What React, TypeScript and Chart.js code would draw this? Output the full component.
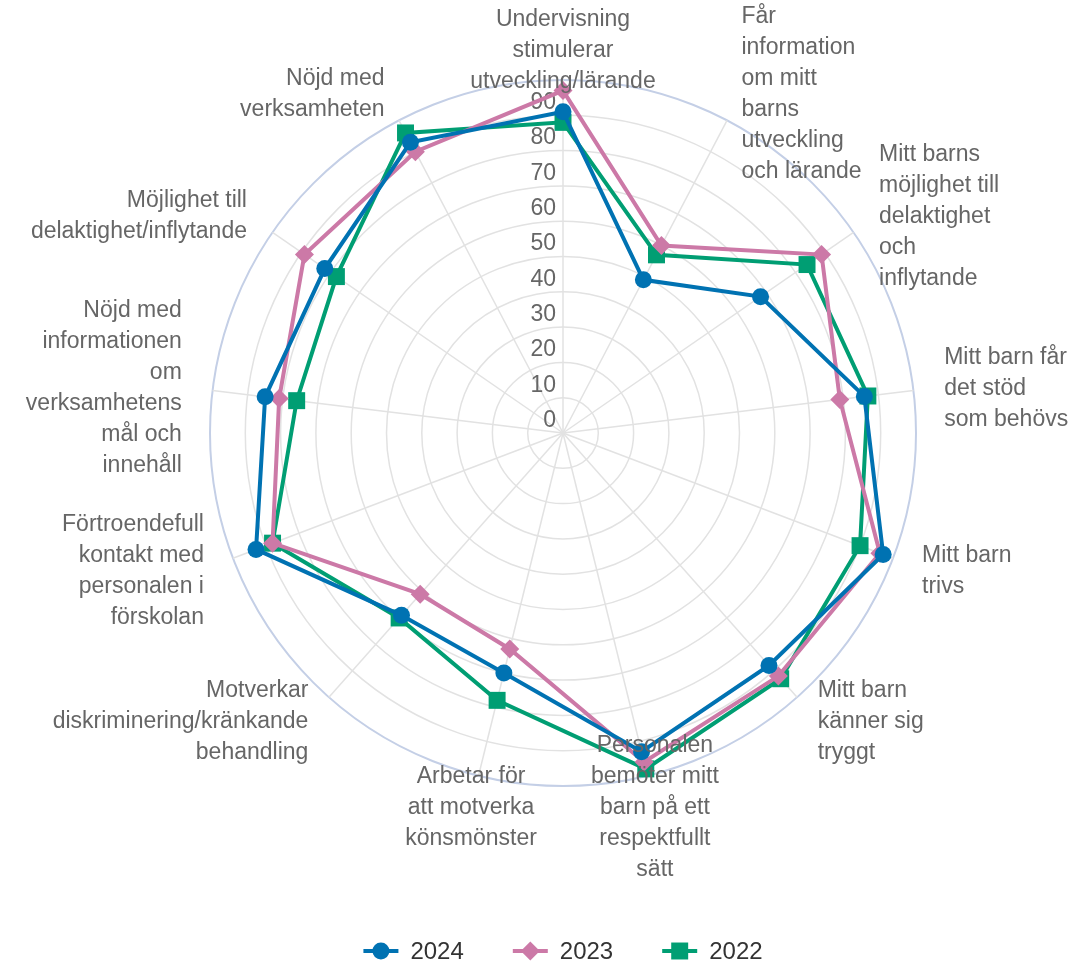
import React, { useEffect, useRef } from 'react';
import { Chart, registerables } from 'chart.js';

Chart.register(...registerables);

const FONT = '"Liberation Sans", Arial, Helvetica, sans-serif';

const categories: string[][] = [
  ['Undervisning', 'stimulerar', 'utveckling/lärande'],
  ['Får', 'information', 'om mitt', 'barns', 'utveckling', 'och lärande'],
  ['Mitt barns', 'möjlighet till', 'delaktighet', 'och', 'inflytande'],
  ['Mitt barn får', 'det stöd', 'som behövs'],
  ['Mitt barn', 'trivs'],
  ['Mitt barn', 'känner sig', 'tryggt'],
  ['Personalen', 'bemöter mitt', 'barn på ett', 'respektfullt', 'sätt'],
  ['Arbetar för', 'att motverka', 'könsmönster'],
  ['Motverkar', 'diskriminering/kränkande', 'behandling'],
  ['Förtroendefull', 'kontakt med', 'personalen i', 'förskolan'],
  ['Nöjd med', 'informationen', 'om', 'verksamhetens', 'mål och', 'innehåll'],
  ['Möjlighet till', 'delaktighet/inflytande'],
  ['Nöjd med', 'verksamheten'],
];

const values2024: number[] = [91, 49, 68, 86, 97, 88, 93, 70, 69, 93, 85, 82, 93];
const values2023: number[] = [97, 60, 89, 79, 96, 92, 96, 63, 61, 88, 81, 89, 90];
const values2022: number[] = [88, 57, 84, 87, 90, 93, 98, 78, 70, 88, 76, 78, 96];

const seriesNames: string[] = ['2024', '2023', '2022'];
const seriesColors: string[] = ['#0072B2', '#CC79A7', '#009E73'];
const seriesStyles: string[] = ['circle', 'rectRot', 'rect'];
const seriesRadius: number[] = [8.5, 9.5, 12];

const axisMin = 0;
const axisMax = 100;
const axisStep = 10;

function drawMarker(ctx: CanvasRenderingContext2D, style: string, x: number, y: number, r: number) {
  ctx.beginPath();
  if (style === 'circle') {
    ctx.arc(x, y, r, 0, Math.PI * 2);
  } else if (style === 'rectRot') {
    ctx.moveTo(x - r, y);
    ctx.lineTo(x, y - r);
    ctx.lineTo(x + r, y);
    ctx.lineTo(x, y + r);
    ctx.closePath();
  } else {
    const s = r * Math.SQRT1_2;
    ctx.rect(x - s, y - s, 2 * s, 2 * s);
  }
  ctx.fill();
}

const tickLabelPlugin = {
  id: 'tickLabels',
  beforeDatasetsDraw(chart: any) {
    const s = chart.scales.r;
    const ctx = chart.ctx as CanvasRenderingContext2D;
    ctx.save();
    ctx.font = `23px ${FONT}`;
    ctx.fillStyle = '#666666';
    ctx.textAlign = 'right';
    ctx.textBaseline = 'middle';
    s.ticks.forEach((t: any) => {
      if (t.value >= s.max) return;
      const d = s.getDistanceFromCenterForValue(t.value);
      ctx.fillText(String(t.value), s.xCenter - 7, s.yCenter - d - 12.5);
    });
    ctx.restore();
  },
};

const pointLabelPlugin = {
  id: 'pointLabelsCustom',
  afterDatasetsDraw(chart: any) {
    const s = chart.scales.r;
    const ctx = chart.ctx as CanvasRenderingContext2D;
    const lineH = 31;
    const dist = s.drawingArea + 31;
    ctx.save();
    ctx.font = `23px ${FONT}`;
    ctx.fillStyle = '#666666';
    ctx.textBaseline = 'middle';
    categories.forEach((lines, i) => {
      const p = s.getPointPosition(i, dist);
      const sx = (p.x - s.xCenter) / dist;
      let align: CanvasTextAlign = 'center';
      if (sx > 0.3) align = 'left';
      else if (sx < -0.3) align = 'right';
      ctx.textAlign = align;
      const y0 = p.y + 1.5 - ((lines.length - 1) * lineH) / 2;
      lines.forEach((ln, k) => {
        ctx.fillText(ln, p.x, y0 + k * lineH);
      });
    });
    ctx.restore();
  },
};

const legendPlugin = {
  id: 'customLegend',
  afterDraw(chart: any) {
    const s = chart.scales.r;
    const ctx = chart.ctx as CanvasRenderingContext2D;
    ctx.save();
    ctx.font = `24px ${FONT}`;
    const symW = 35;
    const textGap = 12;
    const itemGap = 49;
    const widths = seriesNames.map((n) => symW + textGap + ctx.measureText(n).width);
    const total = widths.reduce((a, b) => a + b, 0) + itemGap * (seriesNames.length - 1);
    let x = s.xCenter - total / 2;
    const y = 951;
    seriesNames.forEach((name, i) => {
      ctx.strokeStyle = seriesColors[i];
      ctx.lineWidth = 4;
      ctx.beginPath();
      ctx.moveTo(x, y);
      ctx.lineTo(x + symW, y);
      ctx.stroke();
      ctx.fillStyle = seriesColors[i];
      drawMarker(ctx, seriesStyles[i], x + symW / 2, y, seriesRadius[i]);
      ctx.fillStyle = '#333333';
      ctx.textAlign = 'left';
      ctx.textBaseline = 'middle';
      ctx.fillText(name, x + symW + textGap, y + 1);
      x += widths[i] + itemGap;
    });
    ctx.restore();
  },
};

export default function App() {
  const canvasRef = useRef<HTMLCanvasElement | null>(null);

  useEffect(() => {
    if (!canvasRef.current) return;
    const allValues = [values2024, values2023, values2022];
    const chart = new Chart(canvasRef.current, {
      type: 'radar',
      data: {
        labels: categories,
        datasets: seriesNames.map((name, i) => ({
          label: name,
          data: allValues[i],
          borderColor: seriesColors[i],
          backgroundColor: seriesColors[i],
          pointBackgroundColor: seriesColors[i],
          pointBorderWidth: 0,
          pointStyle: seriesStyles[i] as any,
          pointRadius: seriesRadius[i],
          borderWidth: 4,
          fill: false,
          tension: 0,
        })),
      },
      options: {
        animation: false,
        responsive: true,
        maintainAspectRatio: false,
        layout: { padding: { left: 210, right: 165, top: 80, bottom: 182 } },
        plugins: {
          legend: { display: false },
          tooltip: { enabled: false },
        },
        scales: {
          r: {
            min: axisMin,
            max: axisMax,
            ticks: { display: false, stepSize: axisStep },
            pointLabels: { display: false },
            grid: {
              circular: true,
              color: (c: any) => (c.tick && c.tick.value === axisMax ? '#c4cfe6' : '#e2e2e2'),
              lineWidth: (c: any) => (c.tick && c.tick.value === axisMax ? 2 : 1.5),
            },
            angleLines: { color: '#e2e2e2', lineWidth: 1.5 },
          },
        },
      },
      plugins: [tickLabelPlugin, pointLabelPlugin, legendPlugin],
    });
    return () => chart.destroy();
  }, []);

  return (
    <div style={{ position: 'fixed', left: 0, top: 0, width: 1081, height: 968, background: '#ffffff' }}>
      <canvas ref={canvasRef} />
    </div>
  );
}
